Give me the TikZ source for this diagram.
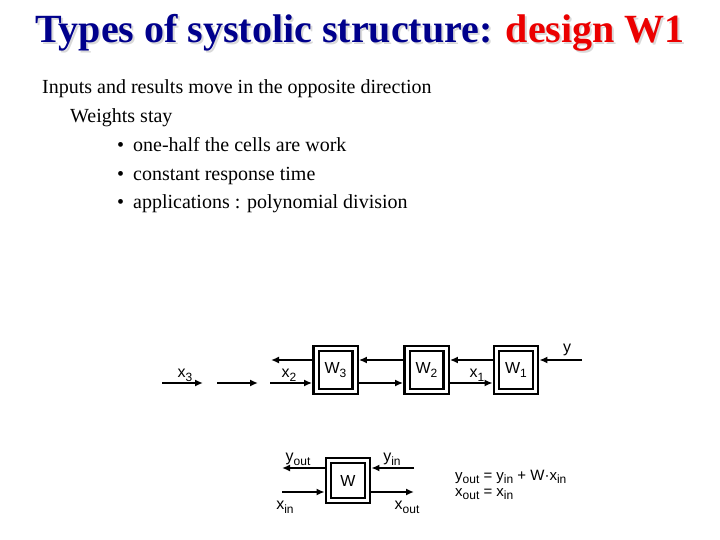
\documentclass[tikz,border=0pt]{standalone}
\usepackage{fontspec}
\setmainfont{Liberation Serif}
\newfontfamily\labelfont{Liberation Sans}
\usetikzlibrary{arrows.meta}
\definecolor{titleblue}{RGB}{0,0,140}
\definecolor{titlered}{RGB}{235,0,0}
\newcommand{\lo}[1]{\raisebox{-0.45ex}{\fontsize{12}{12}\selectfont #1}}

\begin{document}
\begin{tikzpicture}[x=1pt,y=-1pt,
  cell/.style={draw,line width=2.4pt,double,double distance=3pt,minimum width=39pt,minimum height=43pt,inner sep=0pt,outer sep=3.9pt,font=\labelfont\fontsize{16}{16}\selectfont},
  lab/.style={inner sep=0pt,font=\labelfont\fontsize{16}{16}\selectfont},
  eq/.style={anchor=west,inner sep=0pt,font=\labelfont\fontsize{15}{15}\selectfont},
  a/.style={line width=2pt,-{Latex[length=8pt,width=7pt]}},
  body/.style={anchor=base west,inner sep=0pt,font=\fontsize{20}{24}\selectfont},
  head/.style={anchor=base,inner sep=0pt,font=\bfseries\fontsize{40}{40}\selectfont}]

\useasboundingbox (0,0) rectangle (720,540);

% title with its shadow
\node[head,text=black!15] (shadow) at (362,45) {Types of systolic structure: design W1};
\node[head] (title) at (360,43) {\textcolor{titleblue}{Types of systolic structure:} \textcolor{titlered}{design W1}};

% text
\node[body] (l1) at (42,94) {Inputs and results move in the opposite direction};
\node[body] (l2) at (70,123) {Weights stay};
\node[body] (b1) at (133,152) {\llap{\textbullet\hspace{9pt}}one-half the cells are work};
\node[body] (b2) at (133,181) {\llap{\textbullet\hspace{9pt}}constant response time};
\node[body] (b3) at (133,209) {\llap{\textbullet\hspace{9pt}}applications : polynomial division};

% the array of cells
\node[cell] (W3) at (335.5,370) {W\lo{3}};
\node[cell] (W2) at (426.5,370) {W\lo{2}};
\node[cell] (W1) at (516,370) {W\lo{1}};
\coordinate (yin) at (582,360);
\coordinate (ytail) at (271,360);
\coordinate (xrow) at (270,383);
\coordinate (x3a) at (162,383);
\coordinate (x3b) at (203,383);
\coordinate (gapa) at (217,383);
\coordinate (gapb) at (258,383);
\draw[a] (yin) -- (yin -| W1.east);
\draw[a] (yin -| W1.west) -- (yin -| W2.east);
\draw[a] (yin -| W2.west) -- (yin -| W3.east);
\draw[a] (yin -| W3.west) -- (ytail);
\draw[a] (x3a) -- (x3b);
\draw[a] (gapa) -- (gapb);
\draw[a] (xrow) -- (xrow -| W3.west);
\draw[a] (xrow -| W3.east) -- (xrow -| W2.west);
\draw[a] (xrow -| W2.east) -- (xrow -| W1.west);
\node[lab] (ly) at (567,350) {y};
\node[lab] (lx3) at (185,375) {x\lo{3}};
\node[lab] (lx2) at (289,375) {x\lo{2}};
\node[lab] (lx1) at (477,375) {x\lo{1}};

% one cell
\node[cell,minimum height=40pt] (W) at (348,480.5) {W};
\coordinate (yo) at (282,468);
\coordinate (yi) at (414,468);
\coordinate (xi) at (282,492);
\coordinate (xo) at (414,492);
\draw[a] (yi) -- (yi -| W.east);
\draw[a] (yi -| W.west) -- (yo);
\draw[a] (xi) -- (xi -| W.west);
\draw[a] (xi -| W.east) -- (xo);
\node[lab] (lyo) at (298,459) {y\lo{out}};
\node[lab] (lyi) at (392,459) {y\lo{in}};
\node[lab] (lxi) at (285,507) {x\lo{in}};
\node[lab] (lxo) at (407,507) {x\lo{out}};

% cell rule
\node[eq] (eq1) at (455,477) {y\lo{out} = y\lo{in} + W·x\lo{in}};
\node[eq] (eq2) at (455,494) {x\lo{out} = x\lo{in}};
\end{tikzpicture}
\end{document}
